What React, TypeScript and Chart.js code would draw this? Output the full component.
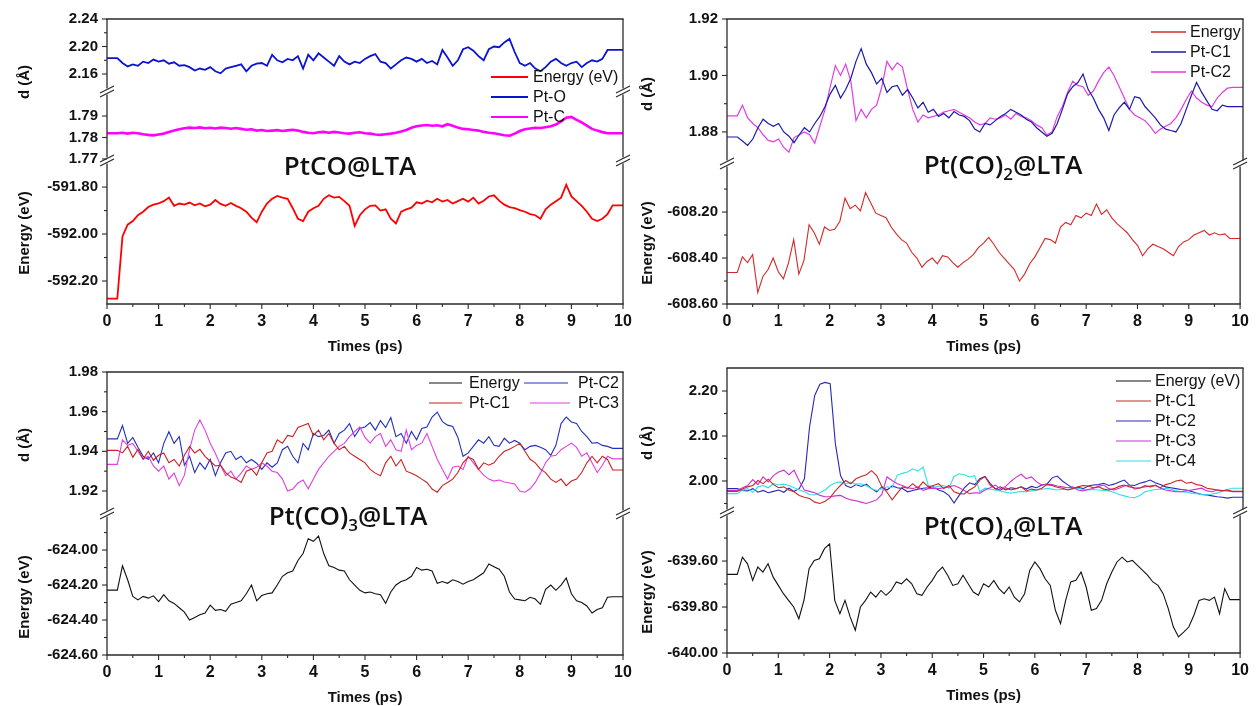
import React, { useEffect, useRef } from "react";
import { Chart, registerables } from "chart.js";
Chart.register(...registerables);

// ---------------- DATA ----------------
const TIMES = [
  0, 0.1, 0.2, 0.3, 0.4, 0.5, 0.6, 0.7, 0.8, 0.9,
  1, 1.1, 1.2, 1.3, 1.4, 1.5, 1.6, 1.7, 1.8, 1.9,
  2, 2.1, 2.2, 2.3, 2.4, 2.5, 2.6, 2.7, 2.8, 2.9,
  3, 3.1, 3.2, 3.3, 3.4, 3.5, 3.6, 3.7, 3.8, 3.9,
  4, 4.1, 4.2, 4.3, 4.4, 4.5, 4.6, 4.7, 4.8, 4.9,
  5, 5.1, 5.2, 5.3, 5.4, 5.5, 5.6, 5.7, 5.8, 5.9,
  6, 6.1, 6.2, 6.3, 6.4, 6.5, 6.6, 6.7, 6.8, 6.9,
  7, 7.1, 7.2, 7.3, 7.4, 7.5, 7.6, 7.7, 7.8, 7.9,
  8, 8.1, 8.2, 8.3, 8.4, 8.5, 8.6, 8.7, 8.8, 8.9,
  9, 9.1, 9.2, 9.3, 9.4, 9.5, 9.6, 9.7, 9.8, 9.9,
  10,
];
const X_TICKS = [0, 1, 2, 3, 4, 5, 6, 7, 8, 9, 10];
const X_MINOR = [0.5, 1.5, 2.5, 3.5, 4.5, 5.5, 6.5, 7.5, 8.5, 9.5];

// Panel 1: PtCO@LTA
const P1_PT_O = [
  2.183, 2.183, 2.183, 2.176, 2.171, 2.174, 2.172, 2.178, 2.176, 2.181,
  2.178, 2.18, 2.175, 2.177, 2.172, 2.173, 2.17, 2.165, 2.168, 2.166,
  2.17, 2.164, 2.161, 2.168, 2.17, 2.172, 2.174, 2.164, 2.172, 2.175,
  2.176, 2.172, 2.188, 2.18, 2.177, 2.182, 2.18, 2.186, 2.168, 2.188,
  2.18, 2.19, 2.184, 2.178, 2.172, 2.186, 2.178, 2.174, 2.178, 2.176,
  2.182, 2.186, 2.189, 2.178, 2.176, 2.168, 2.174, 2.18, 2.184, 2.182,
  2.178, 2.182, 2.176, 2.179, 2.174, 2.195, 2.184, 2.172, 2.18, 2.196,
  2.199, 2.194, 2.186, 2.18, 2.196, 2.2, 2.199, 2.206, 2.211, 2.192,
  2.176, 2.172, 2.176, 2.168, 2.164, 2.17, 2.178, 2.182, 2.176, 2.172,
  2.176, 2.178, 2.17, 2.176, 2.18, 2.178, 2.182, 2.195, 2.195, 2.195,
  2.195,
];
const P1_PT_C = [
  1.782, 1.782, 1.782, 1.7822, 1.7818, 1.7822, 1.782, 1.7815, 1.7812, 1.781,
  1.7814, 1.7818, 1.7825, 1.7832, 1.7838, 1.7843, 1.7846, 1.7844, 1.7847, 1.7843,
  1.7845, 1.7842, 1.7846, 1.7844, 1.7841, 1.7844, 1.784, 1.7836, 1.7838, 1.7832,
  1.7835, 1.783, 1.7832, 1.7834, 1.783, 1.7833, 1.7836, 1.7832, 1.7826, 1.7822,
  1.782, 1.7824, 1.7826, 1.7822, 1.7826, 1.7823, 1.782, 1.7818, 1.7822, 1.7824,
  1.782, 1.7818, 1.7814, 1.7812, 1.7815, 1.7818, 1.7822, 1.7828, 1.7835, 1.7845,
  1.7852, 1.7856, 1.7858, 1.7855, 1.7857, 1.7852, 1.7862, 1.7855, 1.7846, 1.784,
  1.7838, 1.7835, 1.7832, 1.7826, 1.7822, 1.782, 1.7815, 1.781, 1.7808, 1.7818,
  1.783, 1.7838, 1.7842, 1.7845, 1.7844, 1.7848, 1.7852, 1.786, 1.7875, 1.7892,
  1.7896, 1.7882, 1.787, 1.7855, 1.784, 1.7832, 1.7825, 1.782, 1.782, 1.782,
  1.782,
];
const P1_ENERGY = [
  -592.275, -592.275, -592.275, -592.01, -591.96, -591.945, -591.92, -591.905, -591.885, -591.875,
  -591.87, -591.86, -591.845, -591.88, -591.87, -591.875, -591.866, -591.878, -591.87, -591.882,
  -591.875, -591.855, -591.872, -591.88, -591.868, -591.88, -591.89, -591.905, -591.93, -591.95,
  -591.905, -591.87, -591.85, -591.838, -591.845, -591.85, -591.89, -591.935, -591.945, -591.905,
  -591.89, -591.88, -591.85, -591.835, -591.845, -591.842, -591.86, -591.88, -591.965, -591.92,
  -591.895, -591.88, -591.878, -591.9, -591.895, -591.935, -591.955, -591.905, -591.895, -591.888,
  -591.865, -591.87, -591.858, -591.865, -591.85, -591.862, -591.855, -591.87, -591.86, -591.85,
  -591.862, -591.845, -591.87, -591.858, -591.84, -591.835, -591.858, -591.875, -591.885, -591.89,
  -591.898, -591.905, -591.915, -591.92, -591.935, -591.895, -591.875, -591.86, -591.845, -591.79,
  -591.84, -591.86, -591.88, -591.905, -591.935, -591.945, -591.935, -591.915, -591.878, -591.878,
  -591.878,
];

// Panel 2: Pt(CO)2@LTA
const P2_PT_C1 = [
  1.8782, 1.8782, 1.8782, 1.8768, 1.8752, 1.8775, 1.8815, 1.8845, 1.883, 1.882,
  1.883, 1.88, 1.8785, 1.8762, 1.879, 1.8815, 1.88, 1.883, 1.8855, 1.889,
  1.8935, 1.8965, 1.892, 1.895, 1.899, 1.905, 1.9095, 1.904, 1.901, 1.897,
  1.899, 1.894, 1.896, 1.8965, 1.893, 1.895, 1.892, 1.8885, 1.8905, 1.887,
  1.888, 1.8855, 1.8865, 1.885, 1.8872, 1.886, 1.8855, 1.884, 1.881, 1.88,
  1.883, 1.8825, 1.884, 1.8855, 1.8865, 1.888, 1.887, 1.886, 1.8845, 1.8835,
  1.8815, 1.88, 1.8785, 1.8795, 1.883, 1.888, 1.8935, 1.896, 1.8975, 1.9005,
  1.895, 1.892, 1.888, 1.885, 1.8805, 1.886, 1.8885, 1.8905, 1.888, 1.8925,
  1.892, 1.889, 1.887, 1.885, 1.8825, 1.881, 1.8805, 1.88, 1.883, 1.888,
  1.893, 1.8975, 1.894, 1.891, 1.888, 1.8875, 1.8895, 1.889, 1.889, 1.889,
  1.889,
];
const P2_PT_C2 = [
  1.8857, 1.8857, 1.8857, 1.8895, 1.885, 1.883, 1.8815, 1.879, 1.877, 1.8765,
  1.8775, 1.8745, 1.8728, 1.878, 1.879, 1.88, 1.879, 1.876, 1.882, 1.888,
  1.896, 1.9035, 1.9, 1.904, 1.898, 1.884, 1.888, 1.885, 1.888, 1.8895,
  1.896, 1.905, 1.902, 1.9045, 1.903, 1.895, 1.888, 1.8835, 1.886, 1.885,
  1.8855, 1.886, 1.887, 1.8875, 1.888, 1.887, 1.886, 1.885, 1.8835, 1.8825,
  1.883, 1.885, 1.8845, 1.885, 1.886, 1.8845, 1.8865, 1.8855, 1.885, 1.884,
  1.8825, 1.8815, 1.879, 1.88, 1.8855, 1.889, 1.894, 1.898, 1.8965, 1.896,
  1.893, 1.8945, 1.898, 1.901, 1.903, 1.9, 1.896, 1.892, 1.888, 1.886,
  1.885, 1.884, 1.882, 1.8795, 1.881, 1.882, 1.883, 1.885, 1.888, 1.8915,
  1.8945, 1.892, 1.8905, 1.8895, 1.889, 1.892, 1.894, 1.8955, 1.8958, 1.8958,
  1.8958,
];
const P2_ENERGY = [
  -608.463, -608.463, -608.463, -608.395, -608.42, -608.385, -608.55, -608.48, -608.45, -608.4,
  -608.46, -608.49, -608.42, -608.32, -608.47, -608.41, -608.255, -608.29, -608.34, -608.265,
  -608.28, -608.275, -608.24, -608.14, -608.185, -608.17, -608.195, -608.115, -608.16, -608.205,
  -608.215, -608.225, -608.265, -608.295, -608.32, -608.335, -608.375, -608.4, -608.44, -608.415,
  -608.4, -608.425, -608.39, -608.395, -608.42, -608.44, -608.42, -608.405, -608.385, -608.355,
  -608.335, -608.31, -608.34, -608.375, -608.4, -608.425, -608.45, -608.5, -608.47, -608.425,
  -608.395, -608.355, -608.315, -608.32, -608.335, -608.265, -608.245, -608.255, -608.215, -608.225,
  -608.205, -608.215, -608.165, -608.21, -608.19, -608.225, -608.25, -608.27, -608.29, -608.32,
  -608.345, -608.39, -608.36, -608.34, -608.35, -608.36, -608.375, -608.39, -608.35, -608.33,
  -608.32, -608.3, -608.29, -608.28, -608.3, -608.29, -608.3, -608.295, -608.315, -608.315,
  -608.315,
];

// Panel 3: Pt(CO)3@LTA
const P3_PT_C1 = [
  1.9405, 1.9405, 1.9405, 1.9392, 1.9425, 1.937, 1.941, 1.936, 1.94, 1.9355,
  1.938, 1.9392, 1.9342, 1.9359, 1.9326, 1.938, 1.9425, 1.9392, 1.941, 1.9375,
  1.935, 1.9326, 1.933, 1.9293, 1.927, 1.926, 1.9243, 1.93, 1.931, 1.928,
  1.9342, 1.9392, 1.94, 1.9458, 1.9441, 1.948, 1.9474, 1.952, 1.953, 1.954,
  1.948, 1.9507, 1.9458, 1.949, 1.9441, 1.9408, 1.9425, 1.9392, 1.9375, 1.9359,
  1.9342, 1.9309, 1.929, 1.9277, 1.9342, 1.9375, 1.9326, 1.9359, 1.93, 1.929,
  1.9277, 1.926, 1.9243, 1.921, 1.9194, 1.9227, 1.9243, 1.926, 1.9293, 1.9342,
  1.937, 1.9359, 1.9309, 1.9342, 1.933, 1.9342, 1.9375, 1.94, 1.941, 1.9425,
  1.944, 1.94, 1.936, 1.9342, 1.931, 1.9293, 1.926, 1.9243, 1.926, 1.9227,
  1.925, 1.926, 1.9293, 1.9342, 1.9375, 1.9342, 1.9375, 1.9359, 1.9306, 1.9306,
  1.9306,
];
const P3_PT_C2 = [
  1.9463, 1.9463, 1.9463, 1.953, 1.944, 1.947, 1.942, 1.9375, 1.936, 1.9392,
  1.9342, 1.944, 1.9499, 1.944, 1.9474, 1.933, 1.9375, 1.9293, 1.9342, 1.931,
  1.936, 1.9277, 1.9342, 1.9392, 1.94, 1.9359, 1.9375, 1.9342, 1.9359, 1.934,
  1.9309, 1.9342, 1.932, 1.9342, 1.9408, 1.9425, 1.9375, 1.9342, 1.944, 1.9408,
  1.949, 1.9474, 1.948, 1.9507, 1.9441, 1.949, 1.9507, 1.954, 1.9474, 1.9515,
  1.9523, 1.9545, 1.9507, 1.9555, 1.952, 1.957, 1.9474, 1.949, 1.9441, 1.95,
  1.9458, 1.9515, 1.9523, 1.9573, 1.9598, 1.955, 1.9532, 1.9525, 1.947, 1.9375,
  1.9392, 1.9425, 1.9458, 1.9441, 1.9474, 1.943, 1.9425, 1.9466, 1.9441, 1.9455,
  1.9441, 1.9408, 1.9425, 1.943, 1.942, 1.9408, 1.938, 1.943, 1.954, 1.9573,
  1.9548, 1.954, 1.95, 1.9474, 1.9441, 1.9444, 1.943, 1.9425, 1.9415, 1.9415,
  1.9415,
];
const P3_PT_C3 = [
  1.9334, 1.9334, 1.9334, 1.9458, 1.943, 1.944, 1.94, 1.936, 1.9375, 1.9326,
  1.93, 1.9326, 1.926, 1.929, 1.9227, 1.928, 1.941, 1.9507, 1.9558, 1.9507,
  1.9441, 1.939, 1.933, 1.9277, 1.93, 1.926, 1.929, 1.9326, 1.9309, 1.932,
  1.9342, 1.9326, 1.93, 1.9293, 1.926, 1.92, 1.921, 1.924, 1.9255, 1.9211,
  1.926, 1.9309, 1.9342, 1.9375, 1.94, 1.9425, 1.944, 1.9474, 1.95, 1.9523,
  1.947, 1.9441, 1.9474, 1.949, 1.9425, 1.9458, 1.9408, 1.94, 1.9507, 1.9408,
  1.943, 1.9441, 1.949, 1.9425, 1.936, 1.9309, 1.926, 1.932, 1.9326, 1.9309,
  1.9375, 1.9342, 1.9309, 1.928, 1.926, 1.925, 1.9255, 1.9245, 1.924, 1.9235,
  1.92, 1.9194, 1.9211, 1.9243, 1.929, 1.9342, 1.9375, 1.938, 1.9408, 1.9425,
  1.9441, 1.942, 1.9375, 1.9392, 1.9342, 1.9293, 1.933, 1.9375, 1.9362, 1.9362,
  1.9362,
];
const P3_ENERGY = [
  -624.229, -624.229, -624.229, -624.09, -624.17, -624.265, -624.285, -624.265, -624.275, -624.262,
  -624.295, -624.255, -624.29, -624.305, -624.33, -624.355, -624.4, -624.385, -624.37, -624.36,
  -624.315, -624.345, -624.34, -624.35, -624.31, -624.3, -624.29, -624.25, -624.2, -624.29,
  -624.26, -624.25, -624.245, -624.2, -624.15, -624.13, -624.12, -624.06, -624.02, -623.935,
  -623.95, -623.92, -624.02, -624.09, -624.1, -624.115, -624.12, -624.17, -624.2, -624.23,
  -624.245, -624.24, -624.25, -624.255, -624.305, -624.24, -624.2, -624.18, -624.17, -624.15,
  -624.1, -624.115, -624.11, -624.12, -624.19, -624.18, -624.19, -624.17, -624.18, -624.195,
  -624.18, -624.17, -624.15, -624.13, -624.08, -624.095, -624.11, -624.15, -624.24, -624.28,
  -624.285, -624.29, -624.27, -624.28, -624.31, -624.225, -624.2, -624.23, -624.2, -624.16,
  -624.25, -624.29, -624.3, -624.32, -624.36, -624.34, -624.33, -624.27, -624.267, -624.267,
  -624.267,
];

// Panel 4: Pt(CO)4@LTA
const P4_PT_C1 = [
  1.977, 1.977, 1.977, 1.982, 1.987, 1.99, 2.001, 1.994, 2.004, 1.992,
  1.985, 1.987, 1.98, 1.976, 1.968, 1.964, 1.961, 1.953, 1.95, 1.955,
  1.963, 1.978, 1.99, 2.001, 1.994, 2.005, 2.01, 2.014, 2.023, 2.012,
  1.988, 1.975, 1.958, 1.973, 1.987, 1.984, 1.994, 1.984, 1.998, 1.987,
  1.99, 1.994, 1.983, 1.99, 1.976, 1.972, 1.971, 1.98, 1.987, 2.002,
  2.01, 1.991, 1.983, 1.98, 1.985, 1.98, 1.983, 1.987, 1.978, 1.982,
  1.98, 1.984, 1.992, 1.99, 1.986, 1.984, 1.98, 1.983, 1.987, 1.99,
  1.989, 1.985, 1.987, 1.982, 1.98, 1.983, 1.988, 1.991, 1.987, 1.985,
  1.984, 1.99, 1.987, 1.99, 1.985, 1.992, 1.995, 2.0, 2.002, 1.995,
  1.997, 1.992, 1.99, 1.984, 1.982, 1.98, 1.978, 1.98, 1.977, 1.977,
  1.977,
];
const P4_PT_C2 = [
  1.983, 1.983, 1.983, 1.979, 1.978, 1.983, 1.975, 1.979, 1.974, 1.977,
  1.98, 1.975, 1.984, 1.977, 1.983, 2.005, 2.12, 2.19, 2.215, 2.219,
  2.216, 2.083, 2.012, 1.99, 1.985, 1.992, 1.988, 1.993, 1.983, 1.976,
  1.987, 1.98, 1.989, 1.985, 1.983, 1.976, 1.979, 1.982, 1.984, 1.985,
  1.987, 1.98, 1.976, 1.968, 1.951, 1.968, 1.985, 1.996, 1.992, 2.005,
  2.01, 1.995, 1.982, 1.987, 1.98, 1.985, 1.983, 1.987, 1.982, 1.988,
  1.985, 1.991, 1.993, 2.007, 2.011, 2.0, 1.992, 1.984, 1.986, 1.983,
  1.989, 1.991, 1.992, 1.995, 1.99, 1.993, 1.998, 2.002, 1.991, 1.99,
  1.995, 1.998, 2.002, 1.996, 1.992, 1.987, 1.985, 1.983, 1.981, 1.98,
  1.977, 1.973, 1.97, 1.969, 1.967, 1.965, 1.964, 1.962, 1.964, 1.964,
  1.964,
];
const P4_PT_C3 = [
  1.979, 1.979, 1.979, 1.985, 1.99, 2.003, 1.992, 2.009, 1.998, 2.012,
  2.02, 2.024, 2.014, 2.024, 2.0, 1.98, 1.977, 1.974, 1.968, 1.965,
  1.965, 1.967, 1.968, 1.962, 1.958, 1.956, 1.953, 1.95, 1.954, 1.958,
  1.97, 2.009, 2.001, 1.994, 1.99, 1.985, 1.983, 1.987, 1.979, 1.983,
  1.984, 1.983, 1.985, 1.987, 1.99, 1.985, 1.979, 1.972, 1.974, 1.973,
  1.98, 1.985, 1.991, 1.983, 1.988, 1.999, 2.008, 2.015, 2.005, 2.009,
  1.998, 1.991, 1.993, 1.992, 1.989, 1.987, 1.985, 1.987, 1.98, 1.978,
  1.981, 1.984, 1.988, 1.991, 1.983, 1.98, 1.984, 1.989, 1.991, 1.982,
  1.985, 1.987, 1.989, 1.991, 1.984, 1.98, 1.978, 1.976, 1.976, 1.978,
  1.98, 1.982, 1.984, 1.978, 1.976, 1.98, 1.979, 1.978, 1.976, 1.976,
  1.976,
];
const P4_PT_C4 = [
  1.972, 1.972, 1.972, 1.98, 1.983, 1.975, 1.987, 1.99, 1.985, 1.994,
  1.991, 1.993, 1.99, 1.985, 1.98, 1.976, 1.97, 1.969, 1.974, 1.98,
  1.99, 1.996, 1.998, 1.994, 1.997, 1.993, 1.994, 1.99, 1.983, 1.979,
  1.983, 1.987, 1.985, 2.013, 2.017, 2.02, 2.027, 2.022, 2.031, 1.99,
  1.985, 1.988, 1.99, 1.984, 2.01, 2.016, 2.014, 2.009, 2.012, 1.976,
  1.984, 1.982, 1.98, 1.978, 1.975, 1.973, 1.975, 1.977, 1.976, 1.978,
  1.98, 1.981, 1.984, 1.982, 1.98, 1.982, 1.981, 1.983, 1.984, 1.981,
  1.98, 1.981, 1.98, 1.979, 1.978, 1.975, 1.97, 1.967, 1.964, 1.963,
  1.968, 1.976, 1.979, 1.981, 1.982, 1.984, 1.982, 1.978, 1.976, 1.975,
  1.973, 1.972, 1.97, 1.969, 1.971, 1.973, 1.978, 1.981, 1.984, 1.984,
  1.984,
];
const P4_ENERGY = [
  -639.658, -639.658, -639.658, -639.583, -639.612, -639.684, -639.626, -639.648, -639.612, -639.67,
  -639.706, -639.742, -639.771, -639.8, -639.851, -639.771, -639.633, -639.597, -639.59, -639.546,
  -639.525, -639.771, -639.829, -639.771, -639.843, -639.901, -639.8, -639.771, -639.735, -639.757,
  -639.728, -639.749, -639.728, -639.691, -639.699, -639.677, -639.699, -639.742, -639.749, -639.713,
  -639.684, -639.648, -639.626, -639.662, -639.706, -639.699, -639.662, -639.699, -639.735, -639.749,
  -639.699, -639.713, -639.684, -639.72, -639.742, -639.713, -639.757, -639.778, -639.742, -639.641,
  -639.604, -639.633, -639.677, -639.706, -639.814, -639.872, -639.771, -639.691, -639.684, -639.648,
  -639.713, -639.814, -639.807, -639.771, -639.699, -639.648, -639.604, -639.583, -639.604, -639.597,
  -639.619, -639.641, -639.662, -639.691, -639.706, -639.742, -639.807, -639.887, -639.93, -639.909,
  -639.887, -639.836, -639.771, -639.764, -639.771, -639.757, -639.829, -639.72, -639.768, -639.768,
  -639.768,
];

// Y tick values
const P1A_TICKS = [2.16, 2.2, 2.24];
const P1A_MINOR = [2.18, 2.22];
const P1B_TICKS = [1.77, 1.78, 1.79];
const P1C_TICKS = [-592.2, -592.0, -591.8];
const P1C_MINOR = [-592.1, -591.9];
const P2A_TICKS = [1.88, 1.9, 1.92];
const P2A_MINOR = [1.89, 1.91];
const P2B_TICKS = [-608.6, -608.4, -608.2];
const P2B_MINOR = [-608.5, -608.3, -608.1];
const P3A_TICKS = [1.92, 1.94, 1.96, 1.98];
const P3A_MINOR = [1.93, 1.95, 1.97];
const P3B_TICKS = [-624.6, -624.4, -624.2, -624.0];
const P3B_MINOR = [-624.5, -624.3, -624.1, -623.9];
const P4A_TICKS = [2.0, 2.1, 2.2];
const P4A_MINOR = [1.95, 2.05, 2.15];
const P4B_TICKS = [-640.0, -639.8, -639.6];
const P4B_MINOR = [-639.9, -639.7, -639.5];

// ---------------- LAYOUT / STYLE ----------------
const W = 1257;
const H = 706;
const YW = 80;
const XH = 50;
const AXIS = "#2a2a2a";
const TXT = "#111111";
const SANS = '"Liberation Sans", Arial, sans-serif';
const TITLE_FONT = '600 26px "Open Sans", "Noto Sans", sans-serif';
const SUB_FONT = '600 17px "Open Sans", "Noto Sans", sans-serif';

type Series = { name: string; values: number[]; color: string; width: number };
type LegendItem = { s: Series; x1: number; x2: number; tx: number; y: number; lw: number };
type Deco = {
  title: { main: string; sub?: string; tail?: string; cx: number; base: number };
  yTitles: { text: string; x: number; y: number }[];
  legend: LegendItem[];
};
type Sub = {
  key: string;
  box: [number, number, number, number];
  range: [number, number];
  major: number[];
  minor: number[];
  series: Series[];
  showX?: boolean;
  breakTop?: boolean;
  breakBottom?: boolean;
  frameTop?: boolean;
  deco?: Deco;
};

const s1E: Series = { name: "Energy (eV)", values: P1_ENERGY, color: "#ff0000", width: 1.8 };
const s1O: Series = { name: "Pt-O", values: P1_PT_O, color: "#0a14d0", width: 1.8 };
const s1C: Series = { name: "Pt-C", values: P1_PT_C, color: "#ff00ff", width: 2.6 };

const s2E: Series = { name: "Energy", values: P2_ENERGY, color: "#d42828", width: 1.1 };
const s2C1: Series = { name: "Pt-C1", values: P2_PT_C1, color: "#1a1aa8", width: 1.2 };
const s2C2: Series = { name: "Pt-C2", values: P2_PT_C2, color: "#e43ce4", width: 1.2 };

const s3E: Series = { name: "Energy", values: P3_ENERGY, color: "#111111", width: 1.1 };
const s3C1: Series = { name: "Pt-C1", values: P3_PT_C1, color: "#cc2020", width: 1.1 };
const s3C2: Series = { name: "Pt-C2", values: P3_PT_C2, color: "#2030c0", width: 1.1 };
const s3C3: Series = { name: "Pt-C3", values: P3_PT_C3, color: "#e040e0", width: 1.1 };

const s4E: Series = { name: "Energy (eV)", values: P4_ENERGY, color: "#111111", width: 1.1 };
const s4C1: Series = { name: "Pt-C1", values: P4_PT_C1, color: "#c82828", width: 1.1 };
const s4C2: Series = { name: "Pt-C2", values: P4_PT_C2, color: "#2828c0", width: 1.1 };
const s4C3: Series = { name: "Pt-C3", values: P4_PT_C3, color: "#d030d0", width: 1.1 };
const s4C4: Series = { name: "Pt-C4", values: P4_PT_C4, color: "#30e0e8", width: 1.1 };

const SUBS: Sub[] = [
  { key: "p1a", box: [107, 19, 623, 91], range: [2.1353, 2.24], major: P1A_TICKS, minor: P1A_MINOR, series: [s1O], frameTop: true, breakBottom: true },
  { key: "p1b", box: [107, 92, 623, 160], range: [1.7695, 1.8012], major: P1B_TICKS, minor: [], series: [s1C], breakTop: true, breakBottom: true },
  {
    key: "p1c", box: [107, 161, 623, 304], range: [-592.298, -591.689], major: P1C_TICKS, minor: P1C_MINOR, series: [s1E], breakTop: true, showX: true,
    deco: {
      title: { main: "PtCO@LTA", cx: 350, base: 175 },
      yTitles: [{ text: "d (Å)", x: 25, y: 82 }, { text: "Energy (eV)", x: 25, y: 233 }],
      legend: [
        { s: s1E, x1: 491, x2: 528, tx: 533, y: 77, lw: 2 },
        { s: s1O, x1: 491, x2: 528, tx: 533, y: 97, lw: 2 },
        { s: s1C, x1: 491, x2: 528, tx: 533, y: 117, lw: 2 },
      ],
    },
  },
  { key: "p2a", box: [727, 19, 1243, 163], range: [1.869, 1.92], major: P2A_TICKS, minor: P2A_MINOR, series: [s2C1, s2C2], frameTop: true, breakBottom: true },
  {
    key: "p2b", box: [727, 164, 1243, 304], range: [-608.6, -607.991], major: P2B_TICKS, minor: P2B_MINOR, series: [s2E], breakTop: true, showX: true,
    deco: {
      title: { main: "Pt(CO)", sub: "2", tail: "@LTA", cx: 1003, base: 174 },
      yTitles: [{ text: "d (Å)", x: 648, y: 94 }, { text: "Energy (eV)", x: 648, y: 243 }],
      legend: [
        { s: s2E, x1: 1151, x2: 1186, tx: 1190, y: 32, lw: 1.3 },
        { s: s2C1, x1: 1151, x2: 1186, tx: 1190, y: 52, lw: 1.3 },
        { s: s2C2, x1: 1151, x2: 1186, tx: 1190, y: 72, lw: 1.3 },
      ],
    },
  },
  { key: "p3a", box: [107, 372, 623, 513], range: [1.9089, 1.98], major: P3A_TICKS, minor: P3A_MINOR, series: [s3C1, s3C3, s3C2], frameTop: true, breakBottom: true },
  {
    key: "p3b", box: [107, 514, 623, 655], range: [-624.6, -623.794], major: P3B_TICKS, minor: P3B_MINOR, series: [s3E], breakTop: true, showX: true,
    deco: {
      title: { main: "Pt(CO)", sub: "3", tail: "@LTA", cx: 348, base: 525 },
      yTitles: [{ text: "d (Å)", x: 25, y: 445 }, { text: "Energy (eV)", x: 25, y: 597 }],
      legend: [
        { s: s3E, x1: 429, x2: 462, tx: 469, y: 383, lw: 1.2 },
        { s: s3C2, x1: 524, x2: 568, tx: 578, y: 383, lw: 1.2 },
        { s: s3C1, x1: 429, x2: 462, tx: 469, y: 403, lw: 1.2 },
        { s: s3C3, x1: 530, x2: 570, tx: 578, y: 403, lw: 1.2 },
      ],
    },
  },
  { key: "p4a", box: [727, 368, 1243, 512], range: [1.9311, 2.2511], major: P4A_TICKS, minor: P4A_MINOR, series: [s4C1, s4C3, s4C4, s4C2], frameTop: true, breakBottom: true },
  {
    key: "p4b", box: [727, 513, 1243, 653], range: [-640.0, -639.391], major: P4B_TICKS, minor: P4B_MINOR, series: [s4E], breakTop: true, showX: true,
    deco: {
      title: { main: "Pt(CO)", sub: "4", tail: "@LTA", cx: 1003, base: 535 },
      yTitles: [{ text: "d (Å)", x: 648, y: 443 }, { text: "Energy (eV)", x: 648, y: 592 }],
      legend: [
        { s: s4E, x1: 1116, x2: 1151, tx: 1155, y: 381, lw: 1.2 },
        { s: s4C1, x1: 1116, x2: 1151, tx: 1155, y: 401, lw: 1.2 },
        { s: s4C2, x1: 1116, x2: 1151, tx: 1155, y: 421, lw: 1.2 },
        { s: s4C3, x1: 1116, x2: 1151, tx: 1155, y: 441, lw: 1.2 },
        { s: s4C4, x1: 1116, x2: 1151, tx: 1155, y: 461, lw: 1.2 },
      ],
    },
  },
];

// ---------------- DRAWING HELPERS ----------------
function seg(ctx: CanvasRenderingContext2D, x1: number, y1: number, x2: number, y2: number) {
  ctx.beginPath();
  ctx.moveTo(x1, y1);
  ctx.lineTo(x2, y2);
  ctx.stroke();
}

function breakMark(ctx: CanvasRenderingContext2D, x: number, yb: number) {
  ctx.save();
  ctx.strokeStyle = AXIS;
  ctx.lineWidth = 1.1;
  seg(ctx, x - 7, yb + 1.5, x + 7, yb - 5.5);
  seg(ctx, x - 7, yb + 5.5, x + 7, yb - 1.5);
  ctx.restore();
}

function drawDeco(ctx: CanvasRenderingContext2D, d: Deco) {
  ctx.save();
  ctx.fillStyle = TXT;
  const t = d.title;
  ctx.textBaseline = "alphabetic";
  ctx.textAlign = "left";
  ctx.font = TITLE_FONT;
  const w1 = ctx.measureText(t.main).width;
  const w3 = t.tail ? ctx.measureText(t.tail).width : 0;
  ctx.font = SUB_FONT;
  const w2 = t.sub ? ctx.measureText(t.sub).width : 0;
  let x = t.cx - (w1 + w2 + w3) / 2;
  ctx.font = TITLE_FONT;
  ctx.fillText(t.main, x, t.base);
  x += w1;
  if (t.sub) {
    ctx.font = SUB_FONT;
    ctx.fillText(t.sub, x, t.base + 6);
    x += w2;
  }
  if (t.tail) {
    ctx.font = TITLE_FONT;
    ctx.fillText(t.tail, x, t.base);
  }
  ctx.font = `bold 15px ${SANS}`;
  ctx.textAlign = "center";
  ctx.textBaseline = "middle";
  for (const yt of d.yTitles) {
    ctx.save();
    ctx.translate(yt.x, yt.y);
    ctx.rotate(-Math.PI / 2);
    ctx.fillText(yt.text, 0, 0);
    ctx.restore();
  }
  ctx.font = `16px ${SANS}`;
  ctx.textAlign = "left";
  ctx.textBaseline = "middle";
  for (const it of d.legend) {
    ctx.strokeStyle = it.s.color;
    ctx.lineWidth = it.lw;
    seg(ctx, it.x1, it.y, it.x2, it.y);
    ctx.fillStyle = TXT;
    ctx.fillText(it.s.name, it.tx, it.y + 1);
  }
  ctx.restore();
}

function decoPlugin(sub: Sub) {
  return {
    id: "deco_" + sub.key,
    afterDraw(chart: any) {
      const ctx: CanvasRenderingContext2D = chart.ctx;
      const { left, right, top, bottom } = chart.chartArea;
      const ys = chart.scales.y;
      const xs = chart.scales.x;
      ctx.save();
      ctx.strokeStyle = AXIS;
      ctx.lineWidth = 1.3;
      const y0 = sub.breakTop ? top + 2.5 : top;
      const y1 = sub.breakBottom ? bottom - 2.5 : bottom;
      seg(ctx, left, y0, left, y1);
      seg(ctx, right, y0, right, y1);
      if (sub.frameTop) seg(ctx, left - 0.65, top, right + 0.65, top);
      if (sub.showX) seg(ctx, left - 0.65, bottom, right + 0.65, bottom);
      ctx.lineWidth = 1.1;
      for (const v of sub.major) {
        const py = ys.getPixelForValue(v);
        seg(ctx, left - 5, py, left, py);
      }
      for (const v of sub.minor) {
        const py = ys.getPixelForValue(v);
        seg(ctx, left - 3, py, left, py);
      }
      if (sub.showX) {
        for (const v of X_TICKS) {
          const px = xs.getPixelForValue(v);
          seg(ctx, px, bottom, px, bottom + 5);
        }
        for (const v of X_MINOR) {
          const px = xs.getPixelForValue(v);
          seg(ctx, px, bottom, px, bottom + 3);
        }
      }
      if (sub.breakTop) {
        breakMark(ctx, left, top - 0.5);
        breakMark(ctx, right, top - 0.5);
      }
      ctx.restore();
      if (sub.deco) drawDeco(ctx, sub.deco);
    },
  };
}

function buildConfig(sub: Sub): any {
  const [l, t, r, b] = sub.box;
  const xh = sub.showX ? XH : 0;
  return {
    type: "line",
    data: {
      datasets: sub.series.map((s) => ({
        label: s.name,
        data: TIMES.map((tm, i) => ({ x: tm, y: s.values[i] })),
        borderColor: s.color,
        borderWidth: s.width,
        pointRadius: 0,
        fill: false,
        tension: 0,
      })),
    },
    options: {
      responsive: false,
      animation: false,
      devicePixelRatio: 1,
      events: [],
      layout: {
        autoPadding: false,
        padding: { left: l - YW, top: t, right: W - r, bottom: H - b - xh },
      },
      plugins: { legend: { display: false }, tooltip: { enabled: false }, title: { display: false } },
      scales: {
        x: {
          type: "linear",
          min: 0,
          max: 10,
          display: !!sub.showX,
          grid: { display: false, drawTicks: false },
          border: { display: false },
          afterBuildTicks: (sc: any) => {
            sc.ticks = X_TICKS.map((v) => ({ value: v }));
          },
          afterFit: (sc: any) => {
            sc.height = xh;
          },
          ticks: {
            autoSkip: false,
            maxRotation: 0,
            padding: 8,
            color: TXT,
            font: { family: SANS, size: 16, weight: "bold" },
            callback: (v: any) => String(v),
          },
          title: {
            display: !!sub.showX,
            text: "Times (ps)",
            color: TXT,
            font: { family: SANS, size: 15, weight: "bold", lineHeight: 1 },
            padding: { top: 0, bottom: 0 },
          },
        },
        y: {
          type: "linear",
          min: sub.range[0],
          max: sub.range[1],
          grid: { display: false, drawTicks: false },
          border: { display: false },
          afterBuildTicks: (sc: any) => {
            sc.ticks = sub.major.map((v) => ({ value: v }));
          },
          afterFit: (sc: any) => {
            sc.width = YW;
          },
          ticks: {
            padding: 9,
            color: TXT,
            font: { family: SANS, size: 15, weight: "bold" },
            callback: (v: any) => Number(v).toFixed(2),
          },
        },
      },
    },
    plugins: [decoPlugin(sub)],
  };
}

function SubPlot({ sub }: { sub: Sub }) {
  const ref = useRef<HTMLCanvasElement>(null);
  useEffect(() => {
    if (!ref.current) return;
    const chart = new Chart(ref.current, buildConfig(sub));
    return () => chart.destroy();
  }, [sub]);
  return (
    <canvas
      ref={ref}
      width={W}
      height={H}
      style={{ position: "absolute", left: 0, top: 0, width: W, height: H }}
    />
  );
}

export default function App() {
  return (
    <div style={{ position: "fixed", left: 0, top: 0, width: W, height: H, background: "#ffffff", overflow: "hidden" }}>
      {SUBS.map((s) => (
        <SubPlot key={s.key} sub={s} />
      ))}
    </div>
  );
}
